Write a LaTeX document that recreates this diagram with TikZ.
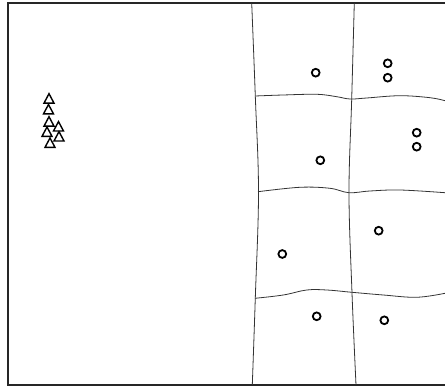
\documentclass[tikz,border=0pt]{standalone}
\usetikzlibrary{shapes.geometric}
\begin{document}
\begin{tikzpicture}[x=1pt,y=-1pt,
  frame/.style={line width=1.2pt,black!85},
  gridline/.style={line width=0.8pt,black!80},
  dot/.style={circle,draw,line width=1.8pt,minimum size=7.8pt,inner sep=0pt},
  pics/tri/.style={code={\draw[line width=1.4pt,line join=miter] (0,-4.7) -- (5,4.7) -- (-5,4.7) -- cycle;}}]
\useasboundingbox (0,0) rectangle (445,387);
% frame
\draw[frame] (445,3) -- (8,3) -- (8,385) -- (445,385);
% vertical lines
\draw[gridline] plot[smooth,tension=0.6] coordinates {(251.7,3) (255.3,96) (258.5,192) (255.3,298) (252.3,385)};
\draw[gridline] plot[smooth,tension=0.6] coordinates {(354.3,3) (351.7,99) (349,193) (352,293) (356,385)};
% horizontal lines
\draw[gridline] plot[smooth,tension=0.6] coordinates {(255.3,96) (283,95) (317,94.3) (336.7,96.7) (350,99) (366.7,98) (400,95.7) (430,97.7) (445,100.7)};
\draw[gridline] plot[smooth,tension=0.6] coordinates {(258,191.7) (300,187.3) (330,188.3) (349,192.7) (370,191) (400,190) (445,192.7)};
\draw[gridline] plot[smooth,tension=0.6] coordinates {(255,298.3) (283.3,295) (306.7,290) (326.7,290) (352,292.3) (383.3,295) (416.7,297.3) (445,293.3)};
% circles
\node[dot] (c1) at (315.7,72.7) {};
\node[dot] (c2) at (387.7,63.3) {};
\node[dot] (c3) at (387.7,77.7) {};
\node[dot] (c4) at (416.7,132.7) {};
\node[dot] (c5) at (416.7,146.7) {};
\node[dot] (c6) at (320.3,160.3) {};
\node[dot] (c7) at (378.7,230.7) {};
\node[dot] (c8) at (282.3,254) {};
\node[dot] (c9) at (316.7,316.3) {};
\node[dot] (c10) at (384.3,320.3) {};
% triangles
\pic at (49,98.4) {tri};
\pic at (48.5,109.2) {tri};
\pic at (49,121.4) {tri};
\pic at (58.5,126.3) {tri};
\pic at (47,131.7) {tri};
\pic at (59,136.3) {tri};
\pic at (50,142.7) {tri};
\end{tikzpicture}
\end{document}
